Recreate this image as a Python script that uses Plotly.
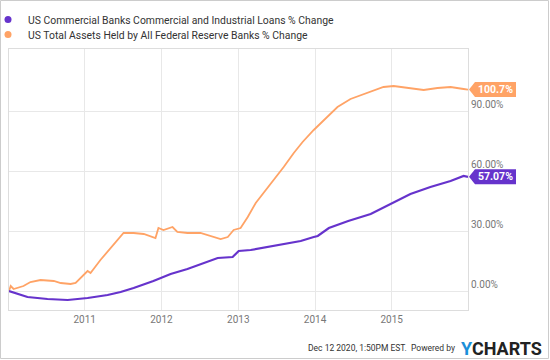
import plotly.graph_objects as go

# ---------------- data ----------------
loan_name = "US Commercial Banks Commercial and Industrial Loans % Change"
fed_name = "US Total Assets Held by All Federal Reserve Banks % Change"

loan_dates = ["2010-01-06", "2010-04-04", "2010-07-08", "2010-10-12", "2011-01-15", "2011-04-20",
              "2011-06-21", "2011-08-22", "2011-11-24", "2012-02-14", "2012-05-04", "2012-08-08",
              "2012-09-25", "2012-12-05", "2013-01-03", "2013-03-01", "2013-05-21", "2013-07-22",
              "2013-10-25", "2013-12-26", "2014-01-14", "2014-03-08", "2014-06-08", "2014-09-23",
              "2014-12-27", "2015-03-31", "2015-07-04", "2015-10-08", "2015-12-09", "2015-12-30"]
loan_values = [0, -3, -4, -4.5, -3.5, -2, -0.5, 1.5, 5, 8.5, 11, 14.5, 16.5, 17, 20, 20.5, 22, 23.5,
               25, 27, 27.5, 31.5, 35, 38.5, 43.5, 48.5, 52, 55, 57.5, 57.07]

fed_dates = ["2010-01-06", "2010-01-14", "2010-01-28", "2010-03-16", "2010-04-18", "2010-06-05",
             "2010-08-07", "2010-09-09", "2010-10-26", "2010-11-19", "2011-01-15", "2011-01-29",
             "2011-03-17", "2011-05-18", "2011-07-05", "2011-08-22", "2011-10-09", "2011-12-04",
             "2011-12-18", "2012-01-11", "2012-02-23", "2012-03-17", "2012-05-04", "2012-07-05",
             "2012-08-23", "2012-10-09", "2012-11-12", "2012-12-10", "2013-01-12", "2013-02-15",
             "2013-03-25", "2013-05-02", "2013-06-19", "2013-08-05", "2013-09-22", "2013-11-03",
             "2013-12-26", "2014-02-11", "2014-04-18", "2014-06-19", "2014-08-20", "2014-09-23",
             "2014-11-23", "2015-01-10", "2015-03-17", "2015-06-02", "2015-08-07", "2015-10-08",
             "2015-12-09", "2015-12-30"]
fed_values = [0, 2.5, 1, 2.5, 4.5, 5.5, 5, 4, 3.5, 4, 10, 9, 15.5, 23, 29, 29, 28.5, 26.5, 31.5,
              30.5, 32, 29.5, 29, 29, 27.5, 26, 27, 30.5, 31.5, 37, 44, 49, 55.5, 62, 69, 74.5,
              80.5, 85.5, 92, 96, 98.5, 99.5, 102, 102.5, 101.5, 100.5, 101.5, 102, 101, 100.7]

y_tick_vals = [0, 30, 60, 90]
y_tick_text = ["0.00%", "30.00%", "60.00%", "90.00%"]
loan_tag = "57.07%"
fed_tag = "100.7%"
footer_text = "Dec 12 2020, 1:50PM EST.  Powered by"

# ---------------- style ----------------
PURPLE = "#6633cc"
ORANGE = "#ffa366"
W, H = 550, 360
ML, MR, MT, MB = 9, 82, 49, 50
PW, PH = W - ML - MR, H - MT - MB
YMIN, YMAX = -9.5, 121.0
FONT = "Roboto"


def px_x(p):
    return (p - ML) / PW


def px_y(p):
    return (H - MB - p) / PH


def val_y(v):
    return (v - YMIN) / (YMAX - YMIN)


fig = go.Figure()
fig.add_trace(go.Scatter(x=fed_dates, y=fed_values, mode="lines", name=fed_name,
                         line=dict(color=ORANGE, width=1.8), showlegend=False))
fig.add_trace(go.Scatter(x=loan_dates, y=loan_values, mode="lines", name=loan_name,
                         line=dict(color=PURPLE, width=2.2), showlegend=False))
# legend entries (dot markers)
fig.add_trace(go.Scatter(x=[None], y=[None], mode="markers", name=loan_name,
                         marker=dict(color=PURPLE, size=7), legend="legend"))
fig.add_trace(go.Scatter(x=[None], y=[None], mode="markers", name=fed_name,
                         marker=dict(color=ORANGE, size=7), legend="legend2"))

shapes = []
annotations = []
# value tags
for v, txt, col in [(fed_values[-1], fed_tag, ORANGE), (loan_values[-1], loan_tag, PURPLE)]:
    yc = val_y(v)
    hh = 7.5 / PH
    xt, xb, xr = px_x(469), px_x(475), px_x(516)
    shapes.append(dict(type="path", xref="paper", yref="paper",
                       path=f"M {xt},{yc} L {xb},{yc+hh} L {xr},{yc+hh} L {xr},{yc-hh} L {xb},{yc-hh} Z",
                       fillcolor=col, line=dict(width=0)))
    annotations.append(dict(xref="paper", yref="paper", x=(xb + xr) / 2, y=yc, text=f"<b>{txt}</b>",
                            showarrow=False, xanchor="center", yanchor="middle",
                            font=dict(family=FONT, size=10.5, color="white")))

# outer frame
shapes.append(dict(type="rect", xref="paper", yref="paper",
                   x0=px_x(0.5), x1=px_x(548.5), y0=px_y(358.5), y1=px_y(0.5),
                   line=dict(color="#cccccc", width=1), fillcolor="rgba(0,0,0,0)", layer="below"))

# footer
annotations.append(dict(xref="paper", yref="paper", x=px_x(457), y=px_y(348), text=footer_text,
                        showarrow=False, xanchor="right", yanchor="middle",
                        font=dict(family=FONT, size=8.5, color="#333333")))
annotations.append(dict(xref="paper", yref="paper", x=px_x(459), y=px_y(348),
                        text="<b><span style='color:#1a8fd9'>Y</span>CHARTS</b>",
                        showarrow=False, xanchor="left", yanchor="middle",
                        font=dict(family=FONT, size=18, color="#222222")))

fig.update_layout(
    width=W, height=H,
    margin=dict(l=ML, r=MR, t=MT, b=MB, autoexpand=False),
    paper_bgcolor="white", plot_bgcolor="white",
    font=dict(family=FONT, size=10, color="#333333"),
    legend=dict(x=px_x(-12), y=px_y(5), xanchor="left", yanchor="top",
                font=dict(family=FONT, size=10.4, color="#333333"), bgcolor="rgba(0,0,0,0)"),
    legend2=dict(x=px_x(-12), y=px_y(20), xanchor="left", yanchor="top",
                 font=dict(family=FONT, size=10.4, color="#333333"), bgcolor="rgba(0,0,0,0)"),
    xaxis=dict(type="date", range=["2010-01-06", "2015-12-30"], dtick="M12", tick0="2011-01-01",
               tickformat="%Y", showgrid=True, gridcolor="#e8e8e8", gridwidth=1,
               showline=True, linecolor="#dddddd", linewidth=1, mirror=True,
               ticks="", tickfont=dict(family=FONT, size=10, color="#777777"), zeroline=False),
    yaxis=dict(range=[YMIN, YMAX], side="right", tickvals=y_tick_vals, ticktext=y_tick_text,
               showgrid=True, gridcolor="#e8e8e8", gridwidth=1, zeroline=False,
               showline=True, linecolor="#dddddd", linewidth=1, mirror=True,
               ticks="", ticklabelposition="outside top",
               tickfont=dict(family=FONT, size=10, color="#777777")),
    shapes=shapes, annotations=annotations,
)

fig.write_html("out.html", config={"displayModeBar": False},
               post_script="document.body.style.margin='0';")
